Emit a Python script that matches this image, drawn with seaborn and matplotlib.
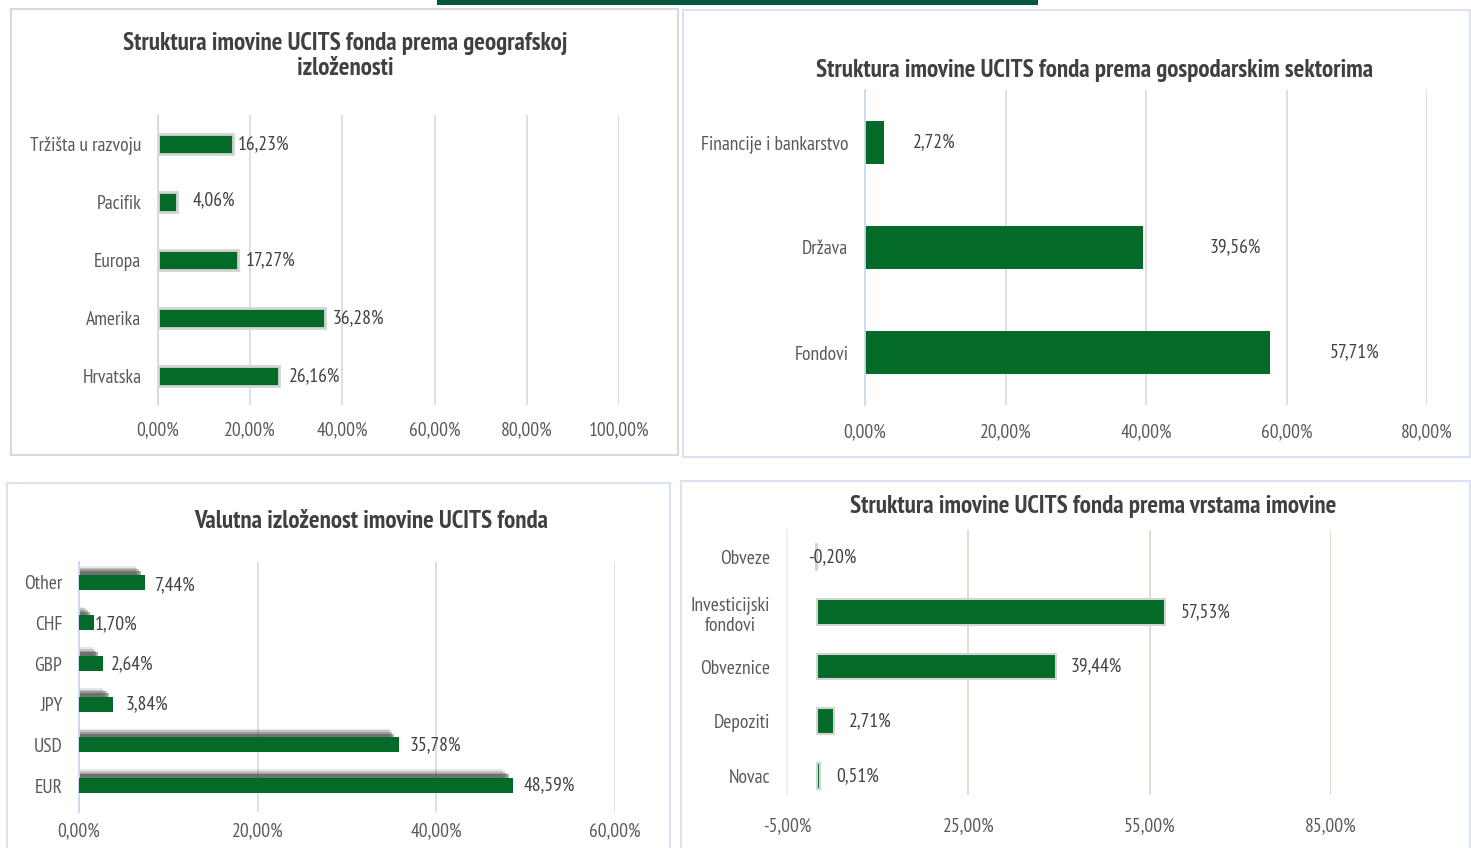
import matplotlib
matplotlib.use("Agg")
import matplotlib.pyplot as plt
import seaborn as sns
import pandas as pd
from matplotlib.patches import Rectangle

# Data
geo_cats = ["Tržišta u razvoju", "Pacifik", "Europa", "Amerika", "Hrvatska"]
geo_vals = [16.23, 4.06, 17.27, 36.28, 26.16]

sect_cats = ["Financije i bankarstvo", "Država", "Fondovi"]
sect_vals = [2.72, 39.56, 57.71]

cur_cats = ["Other", "CHF", "GBP", "JPY", "USD", "EUR"]
cur_vals = [7.44, 1.70, 2.64, 3.84, 35.78, 48.59]

asset_cats = ["Obveze", "Investicijski\nfondovi", "Obveznice", "Depoziti", "Novac"]
asset_vals = [-0.20, 57.53, 39.44, 2.71, 0.51]

# Style
sns.set_theme(style="white")
plt.rcParams['font.family'] = ['PT Sans Narrow', 'Roboto Condensed', 'Liberation Sans', 'DejaVu Sans']
GREEN = "#036b27"
TXT = "#595959"
VAL = "#404040"
FS = 14
TFS = 18
W, H = 1471, 848

fig = plt.figure(figsize=(W / 100, H / 100), dpi=100)


def px_axes(l, t, r, b):
    return fig.add_axes([l / W, 1 - b / H, (r - l) / W, (b - t) / H])


def box(l, t, r, b, color):
    fig.add_artist(Rectangle((l / W, 1 - b / H), (r - l) / W, (b - t) / H,
                             transform=fig.transFigure, fill=False,
                             edgecolor=color, linewidth=1.5))


def pct(v, pos=None):
    return f"{v:.2f}%".replace(".", ",")


def style_axes(ax, ticks, xlim, ylim, grid_col, left_col, xpad):
    ax.set_xlim(*xlim)
    ax.set_ylim(*ylim)
    ax.set_xticks(ticks)
    ax.xaxis.set_major_formatter(plt.FuncFormatter(pct))
    ax.grid(axis="x", color=grid_col, linewidth=1.2)
    ax.set_axisbelow(True)
    for s in ["top", "right", "bottom"]:
        ax.spines[s].set_visible(False)
    ax.spines["left"].set_color(left_col)
    ax.spines["left"].set_linewidth(1.3)
    ax.tick_params(axis="x", length=0, pad=xpad, labelsize=FS, labelcolor=TXT)
    ax.tick_params(axis="y", length=0, pad=12, labelsize=FS, labelcolor=TXT)
    ax.set_xlabel("")
    ax.set_ylabel("")
    ax.patch.set_alpha(0)


def value_labels(ax, vals, offsets_px, dy_px=None):
    for i, (v, o) in enumerate(zip(vals, offsets_px)):
        dy = 0 if dy_px is None else dy_px[i]
        ax.annotate(pct(v), (v, i), xytext=(o * 0.72, -dy * 0.72),
                    textcoords="offset points", ha="left", va="center",
                    fontsize=FS, color=VAL)


# top strip
fig.add_artist(Rectangle((437 / W, 1 - 5 / H), (1038 - 437) / W, 5 / H,
                         transform=fig.transFigure, color="#00573f", linewidth=0))

# panel borders
box(11, 9, 678, 455, "#d9d9d9")
box(683, 10, 1470, 457, "#dae3f3")
box(7, 483, 670, 850, "#dae3f3")
box(681, 481, 1470, 850, "#dae3f3")

# Panel 1: geography
ax1 = px_axes(158, 115, 619, 405)
sns.barplot(x=geo_vals, y=geo_cats, orient="h", color=GREEN, saturation=1,
            errorbar=None, width=0.34, edgecolor="#d4d4d4", linewidth=2, ax=ax1)
style_axes(ax1, [0, 20, 40, 60, 80, 100], (0, 100), (4.5, -0.5),
           "#d9d9d9", "#d9d9d9", 12)
value_labels(ax1, geo_vals, [5, 16, 8, 7, 10], [0, -2, 0, 0, 0])
fig.text(345 / W, 1 - 56 / H,
         "Struktura imovine UCITS fonda prema geografskoj\nizloženosti",
         ha="center", va="center", fontsize=TFS, fontweight="bold",
         color=VAL, linespacing=1.1)

# Panel 2: sectors
ax2 = px_axes(865, 90, 1427, 405)
sns.barplot(x=sect_vals, y=sect_cats, orient="h", color=GREEN, saturation=1,
            errorbar=None, width=0.41, linewidth=0, ax=ax2)
style_axes(ax2, [0, 20, 40, 60, 80], (0, 80), (2.5, -0.5),
           "#d9d9d9", "#c9daf0", 13)
value_labels(ax2, sect_vals, [29, 67, 59])
fig.text(1095 / W, 1 - 71 / H,
         "Struktura imovine UCITS fonda prema gospodarskim sektorima",
         ha="center", va="center", fontsize=TFS, fontweight="bold", color=VAL)

# Panel 3: currencies (with soft shadow)
ax3 = px_axes(79, 562, 615, 812)
ypos = list(range(len(cur_vals)))
for k, a in enumerate([0.12, 0.2, 0.3, 0.42]):
    ax3.barh([y - 0.13 - 0.04 * (3 - k) for y in ypos],
             [v - 0.5 - 0.2 * (3 - k) for v in cur_vals],
             height=0.3, color="#3a3a3a", alpha=a, linewidth=0, zorder=1)
sns.barplot(x=cur_vals, y=cur_cats, orient="h", color=GREEN, saturation=1,
            errorbar=None, width=0.37, linewidth=0, ax=ax3, zorder=3)
style_axes(ax3, [0, 20, 40, 60], (0, 60), (5.65, -0.5),
           "#d9d9d9", "#c9daf0", 7)
value_labels(ax3, cur_vals, [9, 1, 8, 12, 11, 11], [3, 1, 1, 0, 0, 0])
fig.text(371 / W, 1 - 521 / H, "Valutna izloženost imovine UCITS fonda",
         ha="center", va="center", fontsize=TFS, fontweight="bold", color=VAL)

# Panel 4: asset types
ax4 = px_axes(787, 530, 1331, 795)
sns.barplot(x=asset_vals, y=asset_cats, orient="h", color=GREEN, saturation=1,
            errorbar=None, width=0.47, edgecolor="#d4d4d4", linewidth=1.5, ax=ax4)
style_axes(ax4, [-5, 25, 55, 85], (-5, 85), (4.35, -0.5),
           "#ddd8c4", "#f0f0f0", 16)
for lab in ax4.get_yticklabels():
    lab.set_multialignment("center")
value_labels(ax4, asset_vals, [-8, 16, 15, 15, 16])
fig.text(1093 / W, 1 - 507 / H,
         "Struktura imovine UCITS fonda prema vrstama imovine",
         ha="center", va="center", fontsize=TFS, fontweight="bold", color=VAL)

fig.savefig("out.png", dpi=100)
